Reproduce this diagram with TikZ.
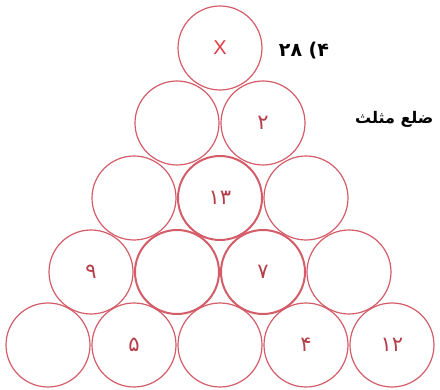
\documentclass[tikz,border=0pt]{standalone}
\usepackage{fontspec}
\TeXXeTstate=1
\newfontfamily\arabicfont[Script=Arabic]{DejaVu Sans}
\newfontfamily\numfont{DejaVu Sans}
\newfontfamily\latinfont{Liberation Sans}
\definecolor{ring}{RGB}{212,92,104}
\definecolor{numc}{RGB}{180,62,74}
\definecolor{xred}{RGB}{225,60,70}
\begin{document}
\begin{tikzpicture}[x=1pt,y=-1pt,
  ball/.style={circle,draw=ring,line width=1.2pt,minimum size=84pt,inner sep=0pt,
    text=numc,font=\numfont\fontsize{21}{24}\selectfont},
  heavyball/.style={ball,line width=2pt}]
\useasboundingbox (0,0) rectangle (440,390);
\fill[white] (0,0) rectangle (440,390);
% row 1
\node[ball,text=xred,font=\latinfont\fontsize{20}{24}\selectfont] (a1) at (220,48) {X};
% row 2
\node[ball] (b1) at (177,123) {};
\node[ball] (b2) at (263,123) {۲};
% row 3
\node[ball] (c1) at (134,198) {};
\node[heavyball] (c2) at (220,198) {۱۳};
\node[ball] (c3) at (306,198) {};
% row 4
\node[ball] (d1) at (91,272) {۹};
\node[heavyball] (d2) at (177,272) {};
\node[heavyball] (d3) at (263,272) {۷};
\node[ball] (d4) at (349,272) {};
% row 5
\node[ball] (e1) at (48,345) {};
\node[ball] (e2) at (134,345) {۵};
\node[ball] (e3) at (220,345) {};
\node[ball] (e4) at (306,345) {۴};
\node[ball] (e5) at (392,345) {۱۲};
% texts
\node[font=\numfont\bfseries\fontsize{19}{22}\selectfont] (lbl) at (304,51) {\beginR\beginL ۲۸ (۴\endL\endR};
\node[font=\arabicfont\bfseries\fontsize{16}{19}\selectfont,anchor=east] (side) at (437,119) {\beginR ضلع مثلث\endR};
\end{tikzpicture}
\end{document}
